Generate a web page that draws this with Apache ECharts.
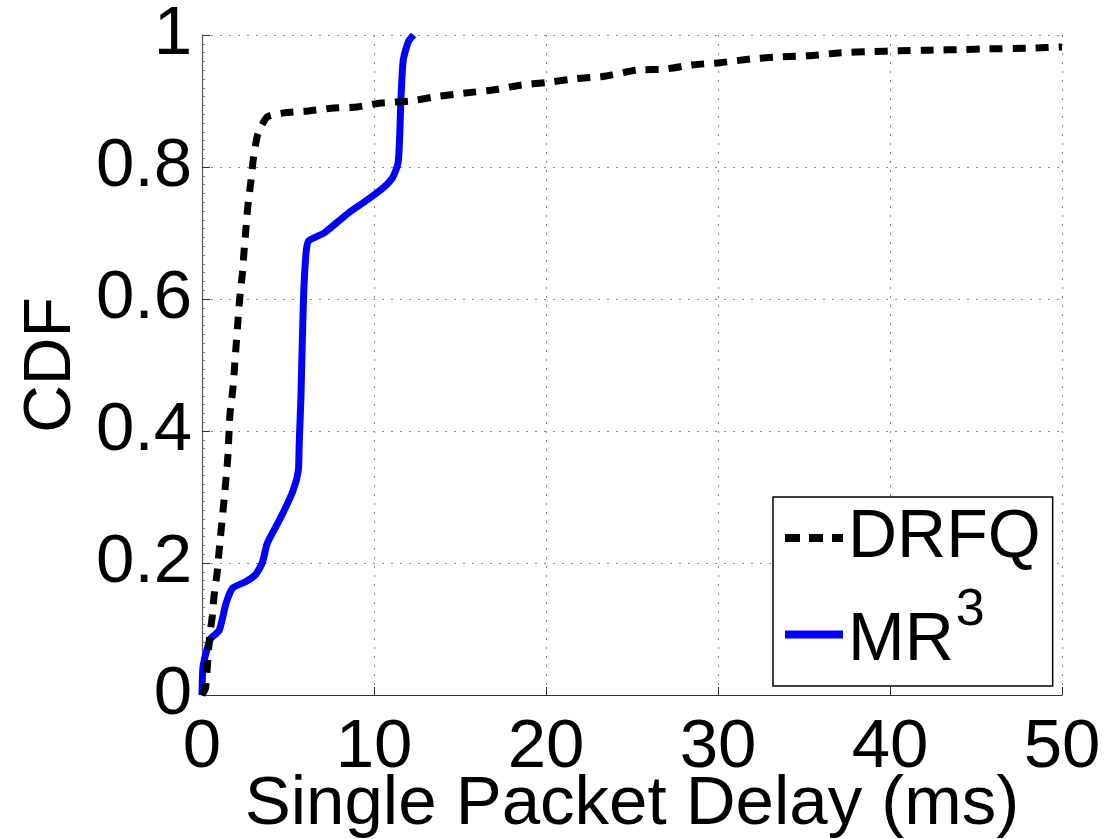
<!DOCTYPE html>
<html>
<head>
<meta charset="utf-8">
<script src="https://cdn.jsdelivr.net/npm/echarts@6/dist/echarts.min.js"></script>
<style>
  html, body { margin: 0; padding: 0; background: #fff; }
  #echarts { width: 1105px; height: 839px; }
</style>
</head>
<body>
<div id="echarts"></div>
<script>
// DRFQ - CDF of single packet delay (ms)
var drfqX = [0, 0.2, 0.33, 0.45, 0.6, 0.7, 0.88, 1.0, 1.3, 1.5, 1.63, 1.8, 1.9, 2.0, 2.1, 2.2, 2.35, 2.44, 2.56, 2.67, 2.85, 3.0, 3.25, 3.8, 4.76, 6.2, 7.5, 9.0, 10.4, 12.1, 13.7, 15.3, 17, 18.5, 20, 21.8, 23.3, 25.3, 26.8, 28.6, 30.1, 32, 33.6, 35.5, 37.1, 39, 40.5, 42.3, 44.3, 45.6, 48.3, 50];
var drfqY = [0, 0.01, 0.05, 0.09, 0.12, 0.15, 0.185, 0.22, 0.3, 0.36, 0.427, 0.465, 0.5, 0.535, 0.571, 0.603, 0.639, 0.671, 0.708, 0.742, 0.78, 0.815, 0.85, 0.876, 0.882, 0.885, 0.889, 0.891, 0.897, 0.9, 0.907, 0.912, 0.917, 0.924, 0.928, 0.934, 0.937, 0.947, 0.948, 0.955, 0.958, 0.964, 0.967, 0.969, 0.973, 0.975, 0.976, 0.977, 0.978, 0.979, 0.98, 0.982];

// MR3
var mr3X = [0, 0.06, 0.33, 0.52, 1.0, 1.4, 1.78, 2.56, 3.1, 3.5, 3.8, 4.6, 5.3, 5.6, 5.65, 5.75, 5.9, 6.05, 6.2, 7.1, 8.5, 9.6, 10.6, 11.1, 11.4, 11.5, 11.56, 11.7, 12.0, 12.3];
var mr3Y = [0, 0.043, 0.073, 0.086, 0.098, 0.139, 0.162, 0.172, 0.182, 0.2, 0.23, 0.27, 0.31, 0.34, 0.38, 0.45, 0.6, 0.67, 0.688, 0.70, 0.73, 0.75, 0.77, 0.785, 0.806, 0.85, 0.9, 0.962, 0.99, 1.0];

function zip(xs, ys) {
  var out = [];
  for (var i = 0; i < xs.length; i++) out.push([xs[i], ys[i]]);
  return out;
}

var font = 'Liberation Sans, Arial, Helvetica, sans-serif';

var myChart = echarts.init(document.getElementById('echarts'));
var option = {
  backgroundColor: '#fff',
  animation: false,
  grid: { left: 202, top: 35, right: 43, bottom: 144, containLabel: false, outerBoundsMode: 'none' },
  legend: {
    orient: 'vertical',
    left: 773,
    top: 497,
    padding: [7, 12, 2, 12],
    itemGap: 13,
    itemWidth: 58,
    itemHeight: 8,
    backgroundColor: '#fff',
    borderColor: '#000',
    borderWidth: 1.5,
    borderRadius: 0,
    data: [
      // dashed sample for DRFQ, solid bar for MR3
      { name: 'DRFQ', icon: 'path://M0,0h15v8h-15z M24,0h14v8h-14z M47,0h11v8h-11z' },
      { name: 'MR3', icon: 'rect' }
    ],
    formatter: function (name) {
      if (name === 'MR3') return '{m|MR}{s|3}';
      return '{t|' + name + '}';
    },
    textStyle: {
      color: '#000',
      fontFamily: font,
      rich: {
        t: { fontSize: 68, fontFamily: font, color: '#000', lineHeight: 76 },
        m: { fontSize: 68, fontFamily: font, color: '#000', lineHeight: 76, padding: [13, 0, 0, 0] },
        s: { fontSize: 52, fontFamily: font, color: '#000', lineHeight: 52, padding: [0, 0, 47, 2] }
      }
    }
  },
  xAxis: {
    type: 'value',
    min: 0,
    max: 50,
    interval: 10,
    name: 'Single Packet Delay (ms)',
    nameLocation: 'middle',
    nameGap: 110,
    nameMoveOverlap: false,
    nameTextStyle: { fontSize: 69, fontFamily: font, color: '#000', verticalAlign: 'middle' },
    axisLine: { show: true, onZero: false, lineStyle: { color: '#333', width: 1.2 } },
    axisTick: { show: true, inside: true, length: 8, lineStyle: { color: '#333' } },
    axisLabel: { fontSize: 69, fontFamily: font, color: '#000', margin: 18 },
    splitLine: { show: true, lineStyle: { color: '#888', type: [2, 7], width: 1 } }
  },
  yAxis: {
    type: 'value',
    min: 0,
    max: 1,
    interval: 0.2,
    name: 'CDF',
    nameLocation: 'middle',
    nameGap: 117,
    nameTextStyle: { fontSize: 66, fontFamily: font, color: '#000' },
    axisLine: { show: true, onZero: false, lineStyle: { color: '#555', width: 1.2 } },
    axisTick: { show: true, inside: true, length: 8, lineStyle: { color: '#333' } },
    minorTick: { show: true, splitNumber: 15, length: 3, lineStyle: { color: '#777' } },
    axisLabel: { fontSize: 69, fontFamily: font, color: '#000', margin: 10 },
    splitLine: { show: true, lineStyle: { color: '#888', type: [2, 7], width: 1 } }
  },
  series: [
    {
      name: 'DRFQ',
      type: 'line',
      symbol: 'none',
      smooth: 0.2,
      data: zip(drfqX, drfqY),
      itemStyle: { color: '#000' },
      lineStyle: { color: '#000', width: 7, type: [13, 10] },
      z: 3
    },
    {
      name: 'MR3',
      type: 'line',
      symbol: 'none',
      smooth: 0.2,
      data: zip(mr3X, mr3Y),
      itemStyle: { color: '#0000ff' },
      lineStyle: { color: '#0000ff', width: 7 },
      z: 2
    }
  ]
};
myChart.setOption(option);
</script>
</body>
</html>
